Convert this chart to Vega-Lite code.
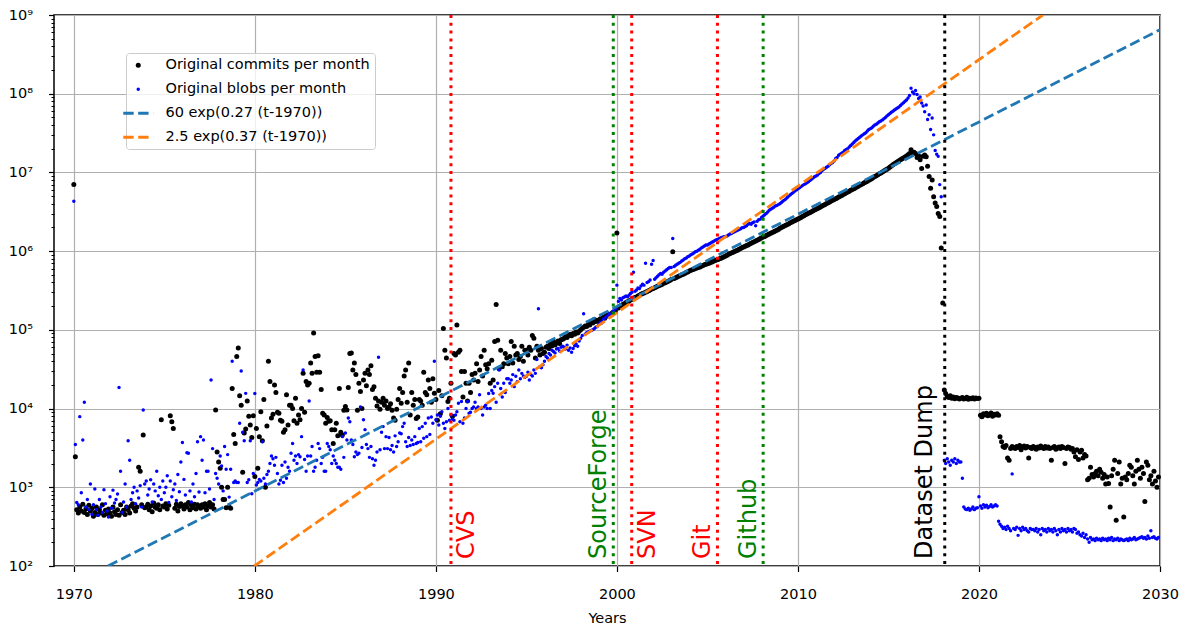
{
"$schema":"https://vega.github.io/schema/vega-lite/v6.json",
"width":1106,"height":551,
"autosize":{"type":"none"},
"padding":{"left":54,"top":15,"right":24,"bottom":61},
"background":"white",
"config":{
"view":{"stroke":"black","strokeWidth":1.5},
"font":"DejaVu Sans",
"axis":{"labelFont":"DejaVu Sans","titleFont":"DejaVu Sans","labelColor":"black","titleColor":"black","tickColor":"black","domain":false,"gridColor":"#b0b0b0","gridWidth":1.2,"labelFontSize":14.5,"titleFontSize":14.5,"titleFontWeight":"normal"}
},
"datasets":{
"fits":[
{"f":"60 exp(0.27 (t-1970))","d":"1971-11-22","v":100},
{"f":"60 exp(0.27 (t-1970))","d":"2030-01-01","v":651000000},
{"f":"2.5 exp(0.37 (t-1970))","d":"1979-12-21","v":100},
{"f":"2.5 exp(0.37 (t-1970))","d":"2023-07-14","v":1000000000}
],
"ev":[
{"d":"1990-11-01","label":"CVS"},
{"d":"1999-10-20","label":"SourceForge"},
{"d":"2000-10-26","label":"SVN"},
{"d":"2005-07-22","label":"Git"},
{"d":"2008-01-30","label":"Github"},
{"d":"2018-02-10","label":"Dataset Dump"}
],
"m":[
{"d":"1970-01","c":7000000,"b":4300000},{"d":"1970-02","c":2450,"b":3500},{"d":"1970-03","c":520,"b":640},{"d":"1970-04","c":470,"b":600},{"d":"1970-05","c":560,"b":7900},{"d":"1970-06","c":500,"b":850},{"d":"1970-07","c":610,"b":4000},{"d":"1970-08","c":480,"b":12000},{"d":"1970-09","c":530,"b":560},{"d":"1970-10","c":450,"b":700},{"d":"1970-11","c":590,"b":520},{"d":"1970-12","c":500,"b":1100},
{"d":"1971-01","c":540,"b":450},{"d":"1971-02","c":430,"b":600},{"d":"1971-03","c":480,"b":950},{"d":"1971-04","c":560,"b":520},{"d":"1971-05","c":450,"b":440},{"d":"1971-06","c":520,"b":700},{"d":"1971-07","c":470,"b":560},{"d":"1971-08","c":600,"b":480},{"d":"1971-09","c":440,"b":930},{"d":"1971-10","c":510,"b":620},{"d":"1971-11","c":460,"b":500},{"d":"1971-12","c":530,"b":420},
{"d":"1972-01","c":470,"b":760},{"d":"1972-02","c":430,"b":540},{"d":"1972-03","c":560,"b":920},{"d":"1972-04","c":490,"b":630},{"d":"1972-05","c":450,"b":700},{"d":"1972-06","c":520,"b":820},{"d":"1972-07","c":440,"b":18500},{"d":"1972-08","c":600,"b":1600},{"d":"1972-09","c":480,"b":480},{"d":"1972-10","c":510,"b":650},{"d":"1972-11","c":450,"b":1100},{"d":"1972-12","c":560,"b":560},
{"d":"1973-01","c":520,"b":3900},{"d":"1973-02","c":470,"b":2200},{"d":"1973-03","c":580,"b":700},{"d":"1973-04","c":620,"b":850},{"d":"1973-05","c":540,"b":1000},{"d":"1973-06","c":500,"b":620},{"d":"1973-07","c":560,"b":900},{"d":"1973-08","c":1800,"b":730},{"d":"1973-09","c":1600,"b":1050},{"d":"1973-10","c":600,"b":560},{"d":"1973-11","c":4600,"b":9600},{"d":"1973-12","c":550,"b":1100},
{"d":"1974-01","c":560,"b":1200},{"d":"1974-02","c":610,"b":800},{"d":"1974-03","c":520,"b":950},{"d":"1974-04","c":580,"b":1250},{"d":"1974-05","c":490,"b":650},{"d":"1974-06","c":630,"b":1100},{"d":"1974-07","c":560,"b":900},{"d":"1974-08","c":540,"b":1600},{"d":"1974-09","c":600,"b":780},{"d":"1974-10","c":520,"b":1000},{"d":"1974-11","c":7200,"b":700},{"d":"1974-12","c":580,"b":1200},
{"d":"1975-01","c":560,"b":850},{"d":"1975-02","c":620,"b":1000},{"d":"1975-03","c":530,"b":1400},{"d":"1975-04","c":590,"b":640},{"d":"1975-05","c":8100,"b":1200},{"d":"1975-06","c":6800,"b":760},{"d":"1975-07","c":5600,"b":930},{"d":"1975-08","c":540,"b":1100},{"d":"1975-09","c":610,"b":680},{"d":"1975-10","c":500,"b":1450},{"d":"1975-11","c":570,"b":880},{"d":"1975-12","c":620,"b":2100},
{"d":"1976-01","c":580,"b":3700},{"d":"1976-02","c":530,"b":1260},{"d":"1976-03","c":600,"b":800},{"d":"1976-04","c":560,"b":2750},{"d":"1976-05","c":640,"b":2700},{"d":"1976-06","c":520,"b":900},{"d":"1976-07","c":590,"b":650},{"d":"1976-08","c":550,"b":1100},{"d":"1976-09","c":610,"b":760},{"d":"1976-10","c":530,"b":1500},{"d":"1976-11","c":600,"b":3800},{"d":"1976-12","c":570,"b":870},
{"d":"1977-01","c":540,"b":4400},{"d":"1977-02","c":600,"b":2200},{"d":"1977-03","c":560,"b":4000},{"d":"1977-04","c":620,"b":850},{"d":"1977-05","c":520,"b":1600},{"d":"1977-06","c":580,"b":1600},{"d":"1977-07","c":640,"b":950},{"d":"1977-08","c":560,"b":23000},{"d":"1977-09","c":600,"b":3100},{"d":"1977-10","c":530,"b":700},{"d":"1977-11","c":9600,"b":1500},{"d":"1977-12","c":2800,"b":1300},
{"d":"1978-01","c":2100,"b":1100},{"d":"1978-02","c":1750,"b":2500},{"d":"1978-03","c":1000,"b":1870},{"d":"1978-04","c":700,"b":900},{"d":"1978-05","c":700,"b":3300},{"d":"1978-06","c":550,"b":1700},{"d":"1978-07","c":1000,"b":2600},{"d":"1978-08","c":560,"b":750},{"d":"1978-09","c":540,"b":1700},{"d":"1978-10","c":18000,"b":40000},{"d":"1978-11","c":4700,"b":1150},{"d":"1978-12","c":3600,"b":1200},
{"d":"1979-01","c":46000,"b":1150},{"d":"1979-02","c":59000,"b":1150},{"d":"1979-03","c":14500,"b":6500},{"d":"1979-04","c":11000,"b":30000},{"d":"1979-05","c":1550,"b":5000},{"d":"1979-06","c":4900,"b":3900},{"d":"1979-07","c":5500,"b":15600},{"d":"1979-08","c":12500,"b":1150},{"d":"1979-09","c":8000,"b":1250},{"d":"1979-10","c":6200,"b":3900},{"d":"1979-11","c":4300,"b":830},{"d":"1979-12","c":8100,"b":1500},
{"d":"1980-01","c":1370,"b":15500},{"d":"1980-02","c":5600,"b":1070},{"d":"1980-03","c":1750,"b":1150},{"d":"1980-04","c":4400,"b":1260},{"d":"1980-05","c":9100,"b":1200},{"d":"1980-06","c":3900,"b":3800},{"d":"1980-07","c":13000,"b":1300},{"d":"1980-08","c":1000,"b":1100},{"d":"1980-09","c":6000,"b":1450},{"d":"1980-10","c":40000,"b":1600},{"d":"1980-11","c":22000,"b":2000},{"d":"1980-12","c":7600,"b":2500},
{"d":"1981-01","c":8500,"b":2300},{"d":"1981-02","c":20000,"b":1900},{"d":"1981-03","c":16000,"b":2400},{"d":"1981-04","c":9000,"b":1500},{"d":"1981-05","c":8700,"b":1100},{"d":"1981-06","c":7100,"b":1230},{"d":"1981-07","c":6900,"b":1900},{"d":"1981-08","c":5000,"b":1150},{"d":"1981-09","c":5400,"b":2100},{"d":"1981-10","c":15000,"b":1300},{"d":"1981-11","c":6200,"b":1800},{"d":"1981-12","c":11000,"b":1600},
{"d":"1982-01","c":11000,"b":2700},{"d":"1982-02","c":10000,"b":3600},{"d":"1982-03","c":7000,"b":2200},{"d":"1982-04","c":13500,"b":2500},{"d":"1982-05","c":6500,"b":2000},{"d":"1982-06","c":8300,"b":2600},{"d":"1982-07","c":7200,"b":2450},{"d":"1982-08","c":10000,"b":4400},{"d":"1982-09","c":28000,"b":31000},{"d":"1982-10","c":9000,"b":2250},{"d":"1982-11","c":22000,"b":1600},{"d":"1982-12","c":20000,"b":2500},
{"d":"1983-01","c":21000,"b":12500},{"d":"1983-02","c":38000,"b":2500},{"d":"1983-03","c":28000,"b":3300},{"d":"1983-04","c":91000,"b":1600},{"d":"1983-05","c":46000,"b":1800},{"d":"1983-06","c":29000,"b":2200},{"d":"1983-07","c":47000,"b":3600},{"d":"1983-08","c":29000,"b":3100},{"d":"1983-09","c":17500,"b":2000},{"d":"1983-10","c":8700,"b":2400},{"d":"1983-11","c":8300,"b":1600},{"d":"1983-12","c":6500,"b":1600},
{"d":"1984-01","c":7700,"b":3600},{"d":"1984-02","c":6900,"b":3300},{"d":"1984-03","c":7000,"b":3000},{"d":"1984-04","c":5400,"b":2000},{"d":"1984-05","c":3600,"b":2500},{"d":"1984-06","c":5400,"b":2200},{"d":"1984-07","c":6500,"b":2000},{"d":"1984-08","c":4500,"b":1800},{"d":"1984-09","c":18000,"b":1800},{"d":"1984-10","c":5000,"b":1700},{"d":"1984-11","c":4600,"b":4400},{"d":"1984-12","c":9500,"b":2400},
{"d":"1985-01","c":10600,"b":4900},{"d":"1985-02","c":9600,"b":4000},{"d":"1985-03","c":18500,"b":7600},{"d":"1985-04","c":50000,"b":6800},{"d":"1985-05","c":51000,"b":4000},{"d":"1985-06","c":31000,"b":3500},{"d":"1985-07","c":38000,"b":2450},{"d":"1985-08","c":27000,"b":2800},{"d":"1985-09","c":9500,"b":2600},{"d":"1985-10","c":21000,"b":2700},{"d":"1985-11","c":16500,"b":10500},{"d":"1985-12","c":10000,"b":3200},
{"d":"1986-01","c":23000,"b":7200},{"d":"1986-02","c":28000,"b":5400},{"d":"1986-03","c":19500,"b":3500},{"d":"1986-04","c":31000,"b":3100},{"d":"1986-05","c":27000,"b":2400},{"d":"1986-06","c":35000,"b":3300},{"d":"1986-07","c":17500,"b":2300},{"d":"1986-08","c":19000,"b":1900},{"d":"1986-09","c":13500,"b":2200},{"d":"1986-10","c":10800,"b":2800},{"d":"1986-11","c":12500,"b":45000},{"d":"1986-12","c":9800,"b":3000},
{"d":"1987-01","c":12000,"b":5000},{"d":"1987-02","c":13500,"b":5900},{"d":"1987-03","c":11000,"b":3100},{"d":"1987-04","c":12500,"b":4400},{"d":"1987-05","c":10000,"b":3100},{"d":"1987-06","c":10500,"b":4300},{"d":"1987-07","c":11500,"b":3000},{"d":"1987-08","c":9500,"b":3400},{"d":"1987-09","c":7600,"b":2800},{"d":"1987-10","c":7100,"b":4500},{"d":"1987-11","c":9800,"b":3300},{"d":"1987-12","c":13000,"b":3800},
{"d":"1988-01","c":18000,"b":4900},{"d":"1988-02","c":11700,"b":4800},{"d":"1988-03","c":16000,"b":5900},{"d":"1988-04","c":26000,"b":6500},{"d":"1988-05","c":31000,"b":3800},{"d":"1988-06","c":12000,"b":3300},{"d":"1988-07","c":38000,"b":4300},{"d":"1988-08","c":8300,"b":3400},{"d":"1988-09","c":16000,"b":4000},{"d":"1988-10","c":11000,"b":3500},{"d":"1988-11","c":13000,"b":4400},{"d":"1988-12","c":7500,"b":3600},
{"d":"1989-01","c":7800,"b":3700},{"d":"1989-02","c":13000,"b":5600},{"d":"1989-03","c":12500,"b":3800},{"d":"1989-04","c":11000,"b":5900},{"d":"1989-05","c":29000,"b":4200},{"d":"1989-06","c":16000,"b":6500},{"d":"1989-07","c":15000,"b":4400},{"d":"1989-08","c":23000,"b":7600},{"d":"1989-09","c":18000,"b":4700},{"d":"1989-10","c":12000,"b":7800},{"d":"1989-11","c":24000,"b":6500},{"d":"1989-12","c":15600,"b":40000},
{"d":"1990-01","c":13000,"b":7200},{"d":"1990-02","c":7100,"b":8300},{"d":"1990-03","c":17000,"b":6200},{"d":"1990-04","c":8600,"b":8000},{"d":"1990-05","c":14500,"b":9100},{"d":"1990-06","c":104000,"b":6500},{"d":"1990-07","c":55000,"b":5600},{"d":"1990-08","c":44000,"b":6800},{"d":"1990-09","c":12300,"b":10000},{"d":"1990-10","c":13500,"b":7100},{"d":"1990-11","c":21000,"b":8300},{"d":"1990-12","c":8000,"b":7300},
{"d":"1991-01","c":50000,"b":7100},{"d":"1991-02","c":48000,"b":8300},{"d":"1991-03","c":115000,"b":9100},{"d":"1991-04","c":52000,"b":11700},{"d":"1991-05","c":55000,"b":6800},{"d":"1991-06","c":29500,"b":12300},{"d":"1991-07","c":14000,"b":6500},{"d":"1991-08","c":29500,"b":7600},{"d":"1991-09","c":21000,"b":10000},{"d":"1991-10","c":12500,"b":12300},{"d":"1991-11","c":21000,"b":8700},{"d":"1991-12","c":16000,"b":9000},
{"d":"1992-01","c":27000,"b":10000},{"d":"1992-02","c":23000,"b":10500},{"d":"1992-03","c":28000,"b":12000},{"d":"1992-04","c":37000,"b":10000},{"d":"1992-05","c":22000,"b":10500},{"d":"1992-06","c":31000,"b":15000},{"d":"1992-07","c":46000,"b":10000},{"d":"1992-08","c":26000,"b":8300},{"d":"1992-09","c":55000,"b":10500},{"d":"1992-10","c":36000,"b":11000},{"d":"1992-11","c":32000,"b":10000},{"d":"1992-12","c":37000,"b":15500},
{"d":"1993-01","c":21000,"b":10000},{"d":"1993-02","c":41000,"b":17000},{"d":"1993-03","c":23000,"b":15700},{"d":"1993-04","c":71000,"b":19000},{"d":"1993-05","c":210000,"b":12000},{"d":"1993-06","c":74000,"b":21000},{"d":"1993-07","c":32000,"b":31000},{"d":"1993-08","c":55000,"b":18000},{"d":"1993-09","c":34000,"b":14000},{"d":"1993-10","c":37000,"b":21000},{"d":"1993-11","c":50000,"b":16000},{"d":"1993-12","c":44000,"b":24000},
{"d":"1994-01","c":37000,"b":24000},{"d":"1994-02","c":46000,"b":21000},{"d":"1994-03","c":71000,"b":23000},{"d":"1994-04","c":38000,"b":27000},{"d":"1994-05","c":62000,"b":19000},{"d":"1994-06","c":48000,"b":25700},{"d":"1994-07","c":50000,"b":22000},{"d":"1994-08","c":42000,"b":31000},{"d":"1994-09","c":46000,"b":24000},{"d":"1994-10","c":62000,"b":28000},{"d":"1994-11","c":40000,"b":26000},{"d":"1994-12","c":55000,"b":25000},
{"d":"1995-01","c":55000,"b":25700},{"d":"1995-02","c":48000,"b":29000},{"d":"1995-03","c":60000,"b":23000},{"d":"1995-04","c":55000,"b":27000},{"d":"1995-05","c":85000,"b":26000},{"d":"1995-06","c":78000,"b":31000},{"d":"1995-07","c":44000,"b":28000},{"d":"1995-08","c":62000,"b":42000},{"d":"1995-09","c":55000,"b":186000},{"d":"1995-10","c":48000,"b":34000},{"d":"1995-11","c":58000,"b":33000},{"d":"1995-12","c":50000,"b":36000},
{"d":"1996-01","c":52000,"b":40000},{"d":"1996-02","c":60000,"b":46000},{"d":"1996-03","c":62000,"b":44000},{"d":"1996-04","c":58000,"b":50000},{"d":"1996-05","c":66000,"b":48000},{"d":"1996-06","c":63000,"b":55000},{"d":"1996-07","c":71000,"b":53000},{"d":"1996-08","c":64000,"b":51000},{"d":"1996-09","c":68000,"b":57000},{"d":"1996-10","c":72000,"b":58000},{"d":"1996-11","c":67000,"b":54000},{"d":"1996-12","c":75000,"b":60000},
{"d":"1997-01","c":76000,"b":62000},{"d":"1997-02","c":78000,"b":60000},{"d":"1997-03","c":82000,"b":57000},{"d":"1997-04","c":80000,"b":64000},{"d":"1997-05","c":85000,"b":55000},{"d":"1997-06","c":88000,"b":59000},{"d":"1997-07","c":84000,"b":52000},{"d":"1997-08","c":90000,"b":58000},{"d":"1997-09","c":88000,"b":63000},{"d":"1997-10","c":94000,"b":66000},{"d":"1997-11","c":91000,"b":62000},{"d":"1997-12","c":96000,"b":72000},
{"d":"1998-01","c":100000,"b":78000},{"d":"1998-02","c":105000,"b":85000},{"d":"1998-03","c":108000,"b":160000},{"d":"1998-04","c":112000,"b":88000},{"d":"1998-05","c":110000,"b":92000},{"d":"1998-06","c":118000,"b":94000},{"d":"1998-07","c":115000,"b":96000},{"d":"1998-08","c":125000,"b":98000},{"d":"1998-09","c":122000,"b":100000},{"d":"1998-10","c":135000,"b":103000},{"d":"1998-11","c":128000,"b":108000},{"d":"1998-12","c":132000,"b":110000},
{"d":"1999-01","c":130000,"b":118000},{"d":"1999-02","c":138000,"b":125000},{"d":"1999-03","c":132000,"b":122000},{"d":"1999-04","c":145000,"b":135000},{"d":"1999-05","c":140000,"b":140000},{"d":"1999-06","c":155000,"b":147000},{"d":"1999-07","c":150000,"b":150000},{"d":"1999-08","c":158000,"b":160000},{"d":"1999-09","c":155000,"b":155000},{"d":"1999-10","c":165000,"b":167000},{"d":"1999-11","c":170000,"b":175000},{"d":"1999-12","c":175000,"b":185000},
{"d":"2000-01","c":1700000,"b":370000},{"d":"2000-02","c":190000,"b":230000},{"d":"2000-03","c":200000,"b":250000},{"d":"2000-04","c":205000,"b":240000},{"d":"2000-05","c":210000,"b":255000},{"d":"2000-06","c":215000,"b":262000},{"d":"2000-07","c":222000,"b":270000},{"d":"2000-08","c":228000,"b":263000},{"d":"2000-09","c":232000,"b":275000},{"d":"2000-10","c":240000,"b":290000},{"d":"2000-11","c":245000,"b":300000},{"d":"2000-12","c":252000,"b":540000},
{"d":"2001-01","c":258000,"b":310000},{"d":"2001-02","c":262000,"b":320000},{"d":"2001-03","c":270000,"b":340000},{"d":"2001-04","c":275000,"b":335000},{"d":"2001-05","c":283000,"b":360000},{"d":"2001-06","c":290000,"b":380000},{"d":"2001-07","c":295000,"b":370000},{"d":"2001-08","c":300000,"b":700000},{"d":"2001-09","c":308000,"b":400000},{"d":"2001-10","c":315000,"b":410000},{"d":"2001-11","c":322000,"b":430000},{"d":"2001-12","c":330000,"b":680000},
{"d":"2002-01","c":335000,"b":760000},{"d":"2002-02","c":342000,"b":440000},{"d":"2002-03","c":350000,"b":460000},{"d":"2002-04","c":358000,"b":480000},{"d":"2002-05","c":365000,"b":500000},{"d":"2002-06","c":372000,"b":520000},{"d":"2002-07","c":380000,"b":510000},{"d":"2002-08","c":390000,"b":540000},{"d":"2002-09","c":398000,"b":560000},{"d":"2002-10","c":405000,"b":580000},{"d":"2002-11","c":415000,"b":600000},{"d":"2002-12","c":425000,"b":620000},
{"d":"2003-01","c":435000,"b":620000},{"d":"2003-02","c":980000,"b":1450000},{"d":"2003-03","c":450000,"b":640000},{"d":"2003-04","c":460000,"b":660000},{"d":"2003-05","c":470000,"b":680000},{"d":"2003-06","c":480000,"b":700000},{"d":"2003-07","c":490000,"b":720000},{"d":"2003-08","c":500000,"b":750000},{"d":"2003-09","c":510000,"b":770000},{"d":"2003-10","c":520000,"b":800000},{"d":"2003-11","c":535000,"b":820000},{"d":"2003-12","c":545000,"b":850000},
{"d":"2004-01","c":560000,"b":870000},{"d":"2004-02","c":570000,"b":900000},{"d":"2004-03","c":580000,"b":920000},{"d":"2004-04","c":590000,"b":950000},{"d":"2004-05","c":600000,"b":980000},{"d":"2004-06","c":610000,"b":1000000},{"d":"2004-07","c":620000,"b":1030000},{"d":"2004-08","c":630000,"b":1060000},{"d":"2004-09","c":645000,"b":1100000},{"d":"2004-10","c":655000,"b":1130000},{"d":"2004-11","c":670000,"b":1160000},{"d":"2004-12","c":680000,"b":1200000},
{"d":"2005-01","c":690000,"b":1200000},{"d":"2005-02","c":700000,"b":1230000},{"d":"2005-03","c":715000,"b":1260000},{"d":"2005-04","c":730000,"b":1300000},{"d":"2005-05","c":745000,"b":1330000},{"d":"2005-06","c":760000,"b":1370000},{"d":"2005-07","c":770000,"b":1400000},{"d":"2005-08","c":785000,"b":1420000},{"d":"2005-09","c":800000,"b":1450000},{"d":"2005-10","c":815000,"b":1480000},{"d":"2005-11","c":830000,"b":1500000},{"d":"2005-12","c":850000,"b":1520000},
{"d":"2006-01","c":870000,"b":1530000},{"d":"2006-02","c":890000,"b":1560000},{"d":"2006-03","c":910000,"b":1600000},{"d":"2006-04","c":930000,"b":1650000},{"d":"2006-05","c":950000,"b":1680000},{"d":"2006-06","c":970000,"b":1720000},{"d":"2006-07","c":990000,"b":1760000},{"d":"2006-08","c":1010000,"b":1800000},{"d":"2006-09","c":1030000,"b":1840000},{"d":"2006-10","c":1060000,"b":1880000},{"d":"2006-11","c":1080000,"b":1930000},{"d":"2006-12","c":1110000,"b":1980000},
{"d":"2007-01","c":1130000,"b":2000000},{"d":"2007-02","c":1150000,"b":2050000},{"d":"2007-03","c":1180000,"b":2100000},{"d":"2007-04","c":1200000,"b":2200000},{"d":"2007-05","c":1230000,"b":2240000},{"d":"2007-06","c":1260000,"b":2200000},{"d":"2007-07","c":1290000,"b":2300000},{"d":"2007-08","c":1320000,"b":2350000},{"d":"2007-09","c":1350000,"b":2100000},{"d":"2007-10","c":1380000,"b":2400000},{"d":"2007-11","c":1410000,"b":2500000},{"d":"2007-12","c":1450000,"b":2550000},
{"d":"2008-01","c":1480000,"b":2700000},{"d":"2008-02","c":1510000,"b":2800000},{"d":"2008-03","c":1540000,"b":2900000},{"d":"2008-04","c":1580000,"b":3000000},{"d":"2008-05","c":1610000,"b":3150000},{"d":"2008-06","c":1650000,"b":3300000},{"d":"2008-07","c":1690000,"b":3400000},{"d":"2008-08","c":1720000,"b":3500000},{"d":"2008-09","c":1760000,"b":3600000},{"d":"2008-10","c":1800000,"b":3750000},{"d":"2008-11","c":1840000,"b":3800000},{"d":"2008-12","c":1880000,"b":3900000},
{"d":"2009-01","c":1950000,"b":4000000},{"d":"2009-02","c":2000000,"b":4150000},{"d":"2009-03","c":2040000,"b":4300000},{"d":"2009-04","c":2090000,"b":4450000},{"d":"2009-05","c":2130000,"b":4600000},{"d":"2009-06","c":2180000,"b":4800000},{"d":"2009-07","c":2230000,"b":5000000},{"d":"2009-08","c":2290000,"b":5200000},{"d":"2009-09","c":2340000,"b":5400000},{"d":"2009-10","c":2400000,"b":5600000},{"d":"2009-11","c":2450000,"b":5800000},{"d":"2009-12","c":2500000,"b":6000000},
{"d":"2010-01","c":2560000,"b":6200000},{"d":"2010-02","c":2620000,"b":6400000},{"d":"2010-03","c":2680000,"b":6600000},{"d":"2010-04","c":2750000,"b":6800000},{"d":"2010-05","c":2820000,"b":7000000},{"d":"2010-06","c":2900000,"b":7200000},{"d":"2010-07","c":2970000,"b":7400000},{"d":"2010-08","c":3030000,"b":7600000},{"d":"2010-09","c":3100000,"b":7900000},{"d":"2010-10","c":3170000,"b":8200000},{"d":"2010-11","c":3250000,"b":8500000},{"d":"2010-12","c":3330000,"b":8800000},
{"d":"2011-01","c":3400000,"b":9000000},{"d":"2011-02","c":3480000,"b":9300000},{"d":"2011-03","c":3560000,"b":9700000},{"d":"2011-04","c":3650000,"b":10000000},{"d":"2011-05","c":3740000,"b":10500000},{"d":"2011-06","c":3830000,"b":11000000},{"d":"2011-07","c":3920000,"b":11200000},{"d":"2011-08","c":4020000,"b":11600000},{"d":"2011-09","c":4120000,"b":12000000},{"d":"2011-10","c":4220000,"b":12500000},{"d":"2011-11","c":4320000,"b":13000000},{"d":"2011-12","c":4420000,"b":13400000},
{"d":"2012-01","c":4520000,"b":14000000},{"d":"2012-02","c":4630000,"b":15000000},{"d":"2012-03","c":4740000,"b":15500000},{"d":"2012-04","c":4860000,"b":16500000},{"d":"2012-05","c":4980000,"b":17000000},{"d":"2012-06","c":5100000,"b":17500000},{"d":"2012-07","c":5230000,"b":18000000},{"d":"2012-08","c":5360000,"b":19000000},{"d":"2012-09","c":5500000,"b":19500000},{"d":"2012-10","c":5640000,"b":20000000},{"d":"2012-11","c":5780000,"b":21000000},{"d":"2012-12","c":5920000,"b":22000000},
{"d":"2013-01","c":6060000,"b":23000000},{"d":"2013-02","c":6210000,"b":24000000},{"d":"2013-03","c":6360000,"b":25000000},{"d":"2013-04","c":6520000,"b":26000000},{"d":"2013-05","c":6680000,"b":27000000},{"d":"2013-06","c":6850000,"b":28000000},{"d":"2013-07","c":7020000,"b":29000000},{"d":"2013-08","c":7200000,"b":30000000},{"d":"2013-09","c":7380000,"b":31000000},{"d":"2013-10","c":7560000,"b":32000000},{"d":"2013-11","c":7750000,"b":33500000},{"d":"2013-12","c":7950000,"b":35000000},
{"d":"2014-01","c":8150000,"b":36000000},{"d":"2014-02","c":8350000,"b":37000000},{"d":"2014-03","c":8600000,"b":38500000},{"d":"2014-04","c":8850000,"b":40000000},{"d":"2014-05","c":9100000,"b":41000000},{"d":"2014-06","c":9350000,"b":42500000},{"d":"2014-07","c":9600000,"b":44000000},{"d":"2014-08","c":9850000,"b":45000000},{"d":"2014-09","c":10100000,"b":46500000},{"d":"2014-10","c":10400000,"b":48000000},{"d":"2014-11","c":10700000,"b":50000000},{"d":"2014-12","c":11000000,"b":52000000},
{"d":"2015-01","c":11300000,"b":54000000},{"d":"2015-02","c":11700000,"b":56000000},{"d":"2015-03","c":12100000,"b":58000000},{"d":"2015-04","c":12500000,"b":60000000},{"d":"2015-05","c":12900000,"b":62000000},{"d":"2015-06","c":13300000,"b":64000000},{"d":"2015-07","c":13700000,"b":66000000},{"d":"2015-08","c":14100000,"b":68000000},{"d":"2015-09","c":14500000,"b":71000000},{"d":"2015-10","c":14900000,"b":74000000},{"d":"2015-11","c":15300000,"b":77000000},{"d":"2015-12","c":15700000,"b":80000000},
{"d":"2016-01","c":16200000,"b":83000000},{"d":"2016-02","c":16800000,"b":88000000},{"d":"2016-03","c":17400000,"b":95000000},{"d":"2016-04","c":19400000,"b":117000000},{"d":"2016-05","c":17500000,"b":105000000},{"d":"2016-06","c":18000000,"b":100000000},{"d":"2016-07","c":17400000,"b":110000000},{"d":"2016-08","c":15500000,"b":98000000},{"d":"2016-09","c":16300000,"b":87000000},{"d":"2016-10","c":14500000,"b":91000000},{"d":"2016-11","c":11200000,"b":76000000},{"d":"2016-12","c":16000000,"b":70000000},
{"d":"2017-01","c":16600000,"b":59000000},{"d":"2017-02","c":15800000,"b":72000000},{"d":"2017-03","c":12000000,"b":47000000},{"d":"2017-04","c":8900000,"b":54000000},{"d":"2017-05","c":6300000,"b":35000000},{"d":"2017-06","c":8000000,"b":49000000},{"d":"2017-07","c":4900000,"b":30000000},{"d":"2017-08","c":4100000,"b":19000000},{"d":"2017-09","c":3700000,"b":17000000},{"d":"2017-10","c":3000000,"b":16000000},{"d":"2017-11","c":2750000,"b":7000000},{"d":"2017-12","c":1100000,"b":4900000},
{"d":"2018-01","c":220000,"b":null},{"d":"2018-02","c":17200,"b":2200},{"d":"2018-03","c":15500,"b":2000},{"d":"2018-04","c":14200,"b":2300},{"d":"2018-05","c":13800,"b":2100},{"d":"2018-06","c":14500,"b":1900},{"d":"2018-07","c":13500,"b":2200},{"d":"2018-08","c":14000,"b":2100},{"d":"2018-09","c":13300,"b":2300},{"d":"2018-10","c":13800,"b":2000},{"d":"2018-11","c":13600,"b":2200},{"d":"2018-12","c":13200,"b":2100},
{"d":"2019-01","c":13500,"b":2100},{"d":"2019-02","c":13800,"b":1300},{"d":"2019-03","c":13200,"b":560},{"d":"2019-04","c":13400,"b":530},{"d":"2019-05","c":13900,"b":520},{"d":"2019-06","c":13100,"b":540},{"d":"2019-07","c":13500,"b":510},{"d":"2019-08","c":13300,"b":530},{"d":"2019-09","c":13700,"b":560},{"d":"2019-10","c":13200,"b":520},{"d":"2019-11","c":13600,"b":540},{"d":"2019-12","c":13400,"b":550},
{"d":"2020-01","c":13500,"b":760},{"d":"2020-02","c":8200,"b":580},{"d":"2020-03","c":7900,"b":540},{"d":"2020-04","c":8600,"b":600},{"d":"2020-05","c":8300,"b":560},{"d":"2020-06","c":8700,"b":590},{"d":"2020-07","c":8100,"b":550},{"d":"2020-08","c":8400,"b":570},{"d":"2020-09","c":8800,"b":600},{"d":"2020-10","c":8000,"b":560},{"d":"2020-11","c":8500,"b":580},{"d":"2020-12","c":8300,"b":600},
{"d":"2021-01","c":8600,"b":580},{"d":"2021-02","c":8200,"b":370},{"d":"2021-03","c":4400,"b":340},{"d":"2021-04","c":3800,"b":320},{"d":"2021-05","c":3300,"b":300},{"d":"2021-06","c":3200,"b":310},{"d":"2021-07","c":3400,"b":290},{"d":"2021-08","c":2350,"b":320},{"d":"2021-09","c":2200,"b":300},{"d":"2021-10","c":3100,"b":280},{"d":"2021-11","c":3300,"b":1480},{"d":"2021-12","c":3200,"b":300},
{"d":"2022-01","c":3100,"b":290},{"d":"2022-02","c":3300,"b":310},{"d":"2022-03","c":3200,"b":245},{"d":"2022-04","c":3400,"b":300},{"d":"2022-05","c":3000,"b":280},{"d":"2022-06","c":3250,"b":310},{"d":"2022-07","c":3350,"b":290},{"d":"2022-08","c":3150,"b":300},{"d":"2022-09","c":3300,"b":280},{"d":"2022-10","c":2350,"b":270},{"d":"2022-11","c":3200,"b":300},{"d":"2022-12","c":3100,"b":290},
{"d":"2023-01","c":3300,"b":290},{"d":"2023-02","c":3200,"b":280},{"d":"2023-03","c":3050,"b":300},{"d":"2023-04","c":3250,"b":270},{"d":"2023-05","c":3150,"b":290},{"d":"2023-06","c":3350,"b":250},{"d":"2023-07","c":3200,"b":300},{"d":"2023-08","c":3100,"b":280},{"d":"2023-09","c":3300,"b":290},{"d":"2023-10","c":3150,"b":270},{"d":"2023-11","c":3250,"b":300},{"d":"2023-12","c":3100,"b":280},
{"d":"2024-01","c":2200,"b":290},{"d":"2024-02","c":3200,"b":270},{"d":"2024-03","c":3300,"b":300},{"d":"2024-04","c":3050,"b":280},{"d":"2024-05","c":3150,"b":250},{"d":"2024-06","c":3250,"b":290},{"d":"2024-07","c":3100,"b":270},{"d":"2024-08","c":3300,"b":300},{"d":"2024-09","c":3200,"b":280},{"d":"2024-10","c":2000,"b":290},{"d":"2024-11","c":3100,"b":270},{"d":"2024-12","c":3250,"b":300},
{"d":"2025-01","c":3200,"b":280},{"d":"2025-02","c":3050,"b":290},{"d":"2025-03","c":3100,"b":270},{"d":"2025-04","c":2800,"b":300},{"d":"2025-05","c":2450,"b":290},{"d":"2025-06","c":3000,"b":260},{"d":"2025-07","c":2250,"b":270},{"d":"2025-08","c":2800,"b":250},{"d":"2025-09","c":2950,"b":240},{"d":"2025-10","c":2350,"b":260},{"d":"2025-11","c":2600,"b":230},{"d":"2025-12","c":2500,"b":250},
{"d":"2026-01","c":1250,"b":220},{"d":"2026-02","c":1300,"b":200},{"d":"2026-03","c":1800,"b":230},{"d":"2026-04","c":1450,"b":215},{"d":"2026-05","c":1350,"b":220},{"d":"2026-06","c":1500,"b":210},{"d":"2026-07","c":1600,"b":225},{"d":"2026-08","c":1400,"b":215},{"d":"2026-09","c":1700,"b":220},{"d":"2026-10","c":1550,"b":210},{"d":"2026-11","c":1300,"b":225},{"d":"2026-12","c":1450,"b":215},
{"d":"2027-01","c":1100,"b":220},{"d":"2027-02","c":1350,"b":210},{"d":"2027-03","c":1120,"b":225},{"d":"2027-04","c":560,"b":215},{"d":"2027-05","c":1400,"b":230},{"d":"2027-06","c":1700,"b":210},{"d":"2027-07","c":2200,"b":220},{"d":"2027-08","c":380,"b":215},{"d":"2027-09","c":1500,"b":225},{"d":"2027-10","c":2100,"b":210},{"d":"2027-11","c":1100,"b":220},{"d":"2027-12","c":1300,"b":215},
{"d":"2028-01","c":420,"b":210},{"d":"2028-02","c":1350,"b":215},{"d":"2028-03","c":1250,"b":220},{"d":"2028-04","c":1500,"b":210},{"d":"2028-05","c":1900,"b":225},{"d":"2028-06","c":1800,"b":215},{"d":"2028-07","c":1400,"b":220},{"d":"2028-08","c":1100,"b":230},{"d":"2028-09","c":1600,"b":215},{"d":"2028-10","c":2200,"b":220},{"d":"2028-11","c":1700,"b":225},{"d":"2028-12","c":1300,"b":230},
{"d":"2029-01","c":1800,"b":235},{"d":"2029-02","c":1500,"b":225},{"d":"2029-03","c":660,"b":230},{"d":"2029-04","c":2100,"b":220},{"d":"2029-05","c":1900,"b":240},{"d":"2029-06","c":1250,"b":225},{"d":"2029-07","c":1400,"b":280},{"d":"2029-08","c":1100,"b":230},{"d":"2029-09","c":1600,"b":235},{"d":"2029-10","c":1200,"b":225},{"d":"2029-11","c":1000,"b":220},{"d":"2029-12","c":1350,"b":230}
]
},
"resolve":{"axis":{"y":"independent"}},
"layer":[
{"data":{"name":"m"},
 "mark":{"type":"point","shape":"circle","filled":true,"size":25,"opacity":1},
 "encoding":{
  "x":{"field":"d","type":"temporal","scale":{"type":"utc","domain":[{"year":1968,"month":11,"date":27,"utc":true},{"year":2030,"month":1,"date":1,"utc":true}]},
   "axis":{"values":[{"year":1970,"utc":true},{"year":1980,"utc":true},{"year":1990,"utc":true},{"year":2000,"utc":true},{"year":2010,"utc":true},{"year":2020,"utc":true},{"year":2030,"utc":true}],"format":"%Y","formatType":"utc","grid":true,"tickSize":5.5,"tickWidth":1.2,"labelPadding":16,"labelFlush":false,"labelOverlap":false,"title":"Years","titlePadding":10}},
  "y":{"field":"c","type":"quantitative","scale":{"type":"log","domain":[100,1000000000]},
   "axis":{"orient":"left","values":[100,1000,10000,100000,1000000,10000000,100000000,1000000000],"labelExpr":"'10' + ['⁰','¹','²','³','⁴','⁵','⁶','⁷','⁸','⁹'][round(log(datum.value)/LN10)]","grid":true,"tickSize":5.5,"tickWidth":1.2,"labelPadding":16,"labelOverlap":false,"labelFlush":false,"title":null}},
  "color":{"datum":"Original commits per month","title":null,"scale":{"domain":["Original commits per month","Original blobs per month","60 exp(0.27 (t-1970))","2.5 exp(0.37 (t-1970))"],"range":["black","blue","#1f77b4","#ff7f0e"]},
   "legend":{"title":null,"orient":"none","legendX":72,"legendY":38,"symbolSize":484,"symbolStrokeWidth":2.8,"labelFont":"DejaVu Sans","labelFontSize":14.5,"labelColor":"black","labelOffset":20,"labelLimit":400,"rowPadding":9,"padding":5,"fillColor":"rgba(255,255,255,0.8)","strokeColor":"#cccccc","cornerRadius":3,
    "encode":{"symbols":{"update":{
     "shape":{"signal":"datum.value == 'Original commits per month' || datum.value == 'Original blobs per month' ? 'circle' : 'M-1.36,0H1.36'"},
     "size":{"signal":"datum.value == 'Original commits per month' ? 25 : (datum.value == 'Original blobs per month' ? 12 : 484)"},
     "strokeWidth":{"signal":"datum.value == 'Original commits per month' || datum.value == 'Original blobs per month' ? 0 : 2.8"},
     "strokeDash":{"value":[10.4,4.5]},
     "opacity":{"value":1}}}}}}
 }},
{"data":{"name":"m"},
 "mark":{"type":"point","shape":"circle","filled":true,"size":12,"opacity":1},
 "encoding":{
  "x":{"field":"d","type":"temporal","scale":{"type":"utc","domain":[{"year":1968,"month":11,"date":27,"utc":true},{"year":2030,"month":1,"date":1,"utc":true}]}},
  "y":{"field":"b","type":"quantitative","scale":{"type":"log","domain":[100,1000000000]},
   "axis":{"orient":"left","values":[200,300,400,500,600,700,800,900,2000,3000,4000,5000,6000,7000,8000,9000,20000,30000,40000,50000,60000,70000,80000,90000,200000,300000,400000,500000,600000,700000,800000,900000,2000000,3000000,4000000,5000000,6000000,7000000,8000000,9000000,20000000,30000000,40000000,50000000,60000000,70000000,80000000,90000000,200000000,300000000,400000000,500000000,600000000,700000000,800000000,900000000],"labels":false,"grid":false,"tickSize":3,"tickWidth":1,"title":null,"domain":false}},
  "color":{"datum":"Original blobs per month","title":null,
   "legend":{"title":null,"orient":"none","legendX":72,"legendY":38,"symbolSize":484,"symbolStrokeWidth":2.8,"labelFont":"DejaVu Sans","labelFontSize":14.5,"labelColor":"black","labelOffset":20,"labelLimit":400,"rowPadding":9,"padding":5,"fillColor":"rgba(255,255,255,0.8)","strokeColor":"#cccccc","cornerRadius":3,
    "encode":{"symbols":{"update":{
     "shape":{"signal":"datum.value == 'Original commits per month' || datum.value == 'Original blobs per month' ? 'circle' : 'M-1.36,0H1.36'"},
     "size":{"signal":"datum.value == 'Original commits per month' ? 25 : (datum.value == 'Original blobs per month' ? 12 : 484)"},
     "strokeWidth":{"signal":"datum.value == 'Original commits per month' || datum.value == 'Original blobs per month' ? 0 : 2.8"},
     "strokeDash":{"value":[10.4,4.5]},
     "opacity":{"value":1}}}}}}
 }},
{"data":{"name":"fits"},
 "mark":{"type":"line","strokeWidth":2.8,"strokeDash":[10.4,4.5],"clip":true},
 "encoding":{
  "x":{"field":"d","type":"temporal","scale":{"type":"utc","domain":[{"year":1968,"month":11,"date":27,"utc":true},{"year":2030,"month":1,"date":1,"utc":true}]}},
  "y":{"field":"v","type":"quantitative","scale":{"type":"log","domain":[100,1000000000]},"axis":null},
  "color":{"field":"f","type":"nominal","title":null,
   "legend":{"title":null,"orient":"none","legendX":72,"legendY":38,"symbolSize":484,"symbolStrokeWidth":2.8,"labelFont":"DejaVu Sans","labelFontSize":14.5,"labelColor":"black","labelOffset":20,"labelLimit":400,"rowPadding":9,"padding":5,"fillColor":"rgba(255,255,255,0.8)","strokeColor":"#cccccc","cornerRadius":3,
    "encode":{"symbols":{"update":{
     "shape":{"signal":"datum.value == 'Original commits per month' || datum.value == 'Original blobs per month' ? 'circle' : 'M-1.36,0H1.36'"},
     "size":{"signal":"datum.value == 'Original commits per month' ? 25 : (datum.value == 'Original blobs per month' ? 12 : 484)"},
     "strokeWidth":{"signal":"datum.value == 'Original commits per month' || datum.value == 'Original blobs per month' ? 0 : 2.8"},
     "strokeDash":{"value":[10.4,4.5]},
     "opacity":{"value":1}}}}}}
 }},
{"data":{"name":"ev"},
 "mark":{"type":"rule","strokeWidth":3,"strokeDash":[3,4.8]},
 "encoding":{
  "x":{"field":"d","type":"temporal","scale":{"type":"utc","domain":[{"year":1968,"month":11,"date":27,"utc":true},{"year":2030,"month":1,"date":1,"utc":true}]}},
  "stroke":{"field":"label","type":"nominal","scale":{"domain":["CVS","SourceForge","SVN","Git","Github","Dataset Dump"],"range":["red","green","red","red","green","black"]},"legend":null}
 }},
{"data":{"name":"ev"},
 "transform":[{"filter":"datum.label == 'CVS' || datum.label == 'SVN'"}],
 "mark":{"type":"text","angle":270,"align":"left","baseline":"alphabetic","fontSize":24,"font":"DejaVu Sans","dx":7,"dy":23},
 "encoding":{
  "x":{"field":"d","type":"temporal","scale":{"type":"utc","domain":[{"year":1968,"month":11,"date":27,"utc":true},{"year":2030,"month":1,"date":1,"utc":true}]}},
  "y":{"datum":100,"type":"quantitative","scale":{"type":"log","domain":[100,1000000000]},"axis":null},
  "text":{"field":"label"},
  "fill":{"field":"label","type":"nominal","scale":{"domain":["CVS","SourceForge","SVN","Git","Github","Dataset Dump"],"range":["red","green","red","red","green","black"]},"legend":null}
 }},
{"data":{"name":"ev"},
 "transform":[{"filter":"datum.label == 'SourceForge' || datum.label == 'Git' || datum.label == 'Github'"}],
 "mark":{"type":"text","angle":270,"align":"left","baseline":"alphabetic","fontSize":24,"font":"DejaVu Sans","dx":7,"dy":-7},
 "encoding":{
  "x":{"field":"d","type":"temporal","scale":{"type":"utc","domain":[{"year":1968,"month":11,"date":27,"utc":true},{"year":2030,"month":1,"date":1,"utc":true}]}},
  "y":{"datum":100,"type":"quantitative","scale":{"type":"log","domain":[100,1000000000]},"axis":null},
  "text":{"field":"label"},
  "fill":{"field":"label","type":"nominal","scale":{"domain":["CVS","SourceForge","SVN","Git","Github","Dataset Dump"],"range":["red","green","red","red","green","black"]},"legend":null}
 }},
{"data":{"name":"ev"},
 "transform":[{"filter":"datum.label == 'Dataset Dump'"}],
 "mark":{"type":"text","angle":270,"align":"left","baseline":"alphabetic","fontSize":24,"font":"DejaVu Sans","dx":7,"dy":-13},
 "encoding":{
  "x":{"field":"d","type":"temporal","scale":{"type":"utc","domain":[{"year":1968,"month":11,"date":27,"utc":true},{"year":2030,"month":1,"date":1,"utc":true}]}},
  "y":{"datum":100,"type":"quantitative","scale":{"type":"log","domain":[100,1000000000]},"axis":null},
  "text":{"field":"label"},
  "fill":{"field":"label","type":"nominal","scale":{"domain":["CVS","SourceForge","SVN","Git","Github","Dataset Dump"],"range":["red","green","red","red","green","black"]},"legend":null}
 }}
]
}
